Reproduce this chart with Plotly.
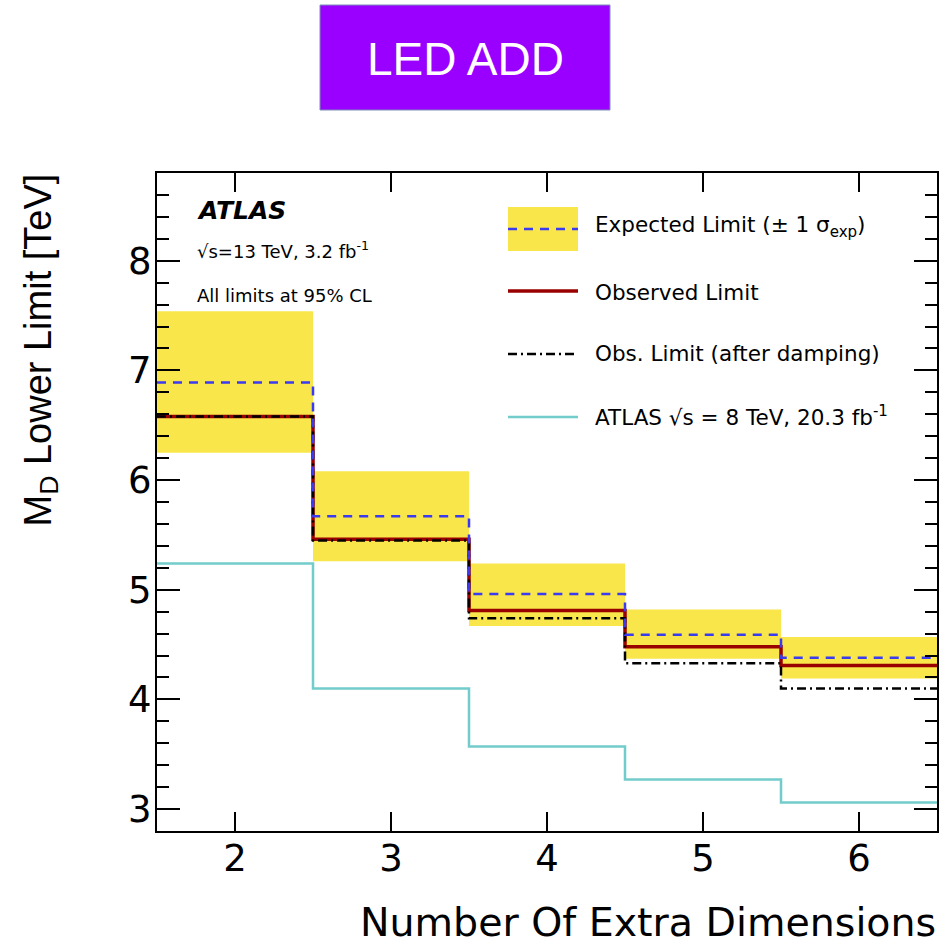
import plotly.graph_objects as go

# ---- data ----
bin_centers = [2, 3, 4, 5, 6]
bin_edges = [1.5, 2.5, 3.5, 4.5, 5.5, 6.5]
exp_band_hi = [7.54, 6.08, 5.24, 4.82, 4.57]
exp_band_lo = [6.25, 5.26, 4.67, 4.37, 4.19]
expected = [6.89, 5.67, 4.96, 4.59, 4.38]
observed = [6.58, 5.46, 4.81, 4.48, 4.31]
obs_damped = [6.58, 5.45, 4.74, 4.33, 4.10]
atlas_8tev = [5.24, 4.10, 3.57, 3.27, 3.06]
x_ticks = [2, 3, 4, 5, 6]
y_ticks = [3, 4, 5, 6, 7, 8]

W, H = 951, 946
L, R, T, B = 157, 937, 173, 831


def px(x):
    return (x - L) / (R - L)


def py(y):
    return (B - y) / (B - T)


def step(vals):
    return list(bin_edges), list(vals) + [vals[-1]]


YELLOW = "#f8e64b"
BLUE = "#3a3af0"
RED = "#990000"
CYAN = "#72cccc"
WIDE = "DejaVu Sans, Verdana, sans-serif"
HELV = "Liberation Sans, Arial, Helvetica, sans-serif"

fig = go.Figure()

fig.add_trace(go.Bar(
    x=bin_centers,
    y=[h - l for h, l in zip(exp_band_hi, exp_band_lo)],
    base=exp_band_lo, width=1,
    marker=dict(color=YELLOW, line=dict(width=0)),
    hoverinfo="skip", showlegend=False))

for vals, color, width, dash in [
    (atlas_8tev, CYAN, 2.5, "solid"),
    (observed, RED, 3.5, "solid"),
    (obs_damped, "black", 2.5, "9px,4px,2px,4px"),
    (expected, BLUE, 2.5, "9px,7px"),
]:
    xs, ys = step(vals)
    fig.add_trace(go.Scatter(
        x=xs, y=ys, mode="lines", line_shape="hv",
        line=dict(color=color, width=width, dash=dash),
        hoverinfo="skip", showlegend=False))

shapes = []
annotations = []

# legend glyphs
shapes.append(dict(type="rect", xref="paper", yref="paper",
                   x0=px(508), x1=px(578), y0=py(251), y1=py(207),
                   fillcolor=YELLOW, line=dict(width=0), layer="above"))
for yy, color, width, dash in [
    (229, BLUE, 2.5, "9px,7px"),
    (291, RED, 3.5, "solid"),
    (354, "black", 2.5, "9px,4px,2px,4px"),
    (417, CYAN, 2.5, "solid"),
]:
    shapes.append(dict(type="line", xref="paper", yref="paper",
                       x0=px(508), x1=px(578), y0=py(yy), y1=py(yy),
                       line=dict(color=color, width=width, dash=dash)))

legend_texts = [
    (226, "Expected Limit (± 1 σ<sub>exp</sub>)"),
    (292, "Observed Limit"),
    (353, "Obs. Limit (after damping)"),
    (416, "ATLAS √s = 8 TeV, 20.3 fb<sup>-1</sup>"),
]
for yy, txt in legend_texts:
    annotations.append(dict(xref="paper", yref="paper", x=px(593), y=py(yy),
                            xanchor="left", yanchor="middle", showarrow=False,
                            text=txt, font=dict(family=WIDE, size=21.5, color="black")))

annotations.append(dict(xref="paper", yref="paper", x=px(195), y=py(210),
                        xanchor="left", yanchor="middle", showarrow=False,
                        text="<b><i>ATLAS</i></b>",
                        font=dict(family=WIDE, size=25, color="black")))
annotations.append(dict(xref="paper", yref="paper", x=px(195), y=py(250),
                        xanchor="left", yanchor="middle", showarrow=False,
                        text="√s=13 TeV, 3.2 fb<sup>-1</sup>",
                        font=dict(family=WIDE, size=18, color="black")))
annotations.append(dict(xref="paper", yref="paper", x=px(195), y=py(295),
                        xanchor="left", yanchor="middle", showarrow=False,
                        text="All limits at 95% CL",
                        font=dict(family=WIDE, size=18, color="black")))

# axis titles
annotations.append(dict(xref="paper", yref="paper", x=px(938), y=py(922),
                        xanchor="right", yanchor="middle", showarrow=False,
                        text="Number Of Extra Dimensions",
                        font=dict(family=WIDE, size=39.5, color="black")))
annotations.append(dict(xref="paper", yref="paper", x=px(40), y=py(172),
                        xanchor="center", yanchor="top", showarrow=False,
                        textangle=-90,
                        text="M<sub>D</sub> Lower Limit [TeV]",
                        font=dict(family=HELV, size=38, color="black")))

# title box
shapes.append(dict(type="rect", xref="paper", yref="paper",
                   x0=px(320), x1=px(610), y0=py(110), y1=py(5),
                   fillcolor="#9900ff", line=dict(color="#7a8fb8", width=1)))
annotations.append(dict(xref="paper", yref="paper", x=px(465), y=py(59),
                        xanchor="center", yanchor="middle", showarrow=False,
                        text="LED ADD",
                        font=dict(family=HELV, size=46, color="white")))

fig.update_layout(
    width=W, height=H,
    margin=dict(l=L, r=W - R, t=T, b=H - B, pad=0),
    paper_bgcolor="white", plot_bgcolor="white",
    shapes=shapes, annotations=annotations,
    showlegend=False,
    xaxis=dict(range=[1.5, 6.5], tickvals=x_ticks, ticktext=[str(v) for v in x_ticks],
               ticks="inside", ticklen=19, tickwidth=1.5, tickcolor="black",
               showline=True, linecolor="black", linewidth=2, mirror="allticks",
               showgrid=False, zeroline=False,
               tickfont=dict(family=WIDE, size=37, color="black"),
               ticklabelstandoff=-6),
    yaxis=dict(range=[2.8, 8.8], tickvals=y_ticks, ticktext=[str(v) for v in y_ticks],
               ticks="inside", ticklen=23, tickwidth=1.5, tickcolor="black",
               showline=True, linecolor="black", linewidth=2, mirror="allticks",
               showgrid=False, zeroline=False,
               minor=dict(dtick=0.2, tick0=0, ticks="inside", ticklen=12,
                          tickwidth=1.5, tickcolor="black", showgrid=False),
               tickfont=dict(family=WIDE, size=37, color="black"),
               ticklabelstandoff=-4),
)

fig.write_html("out.html", config={"displayModeBar": False},
               post_script="document.body.style.margin='0px';")
